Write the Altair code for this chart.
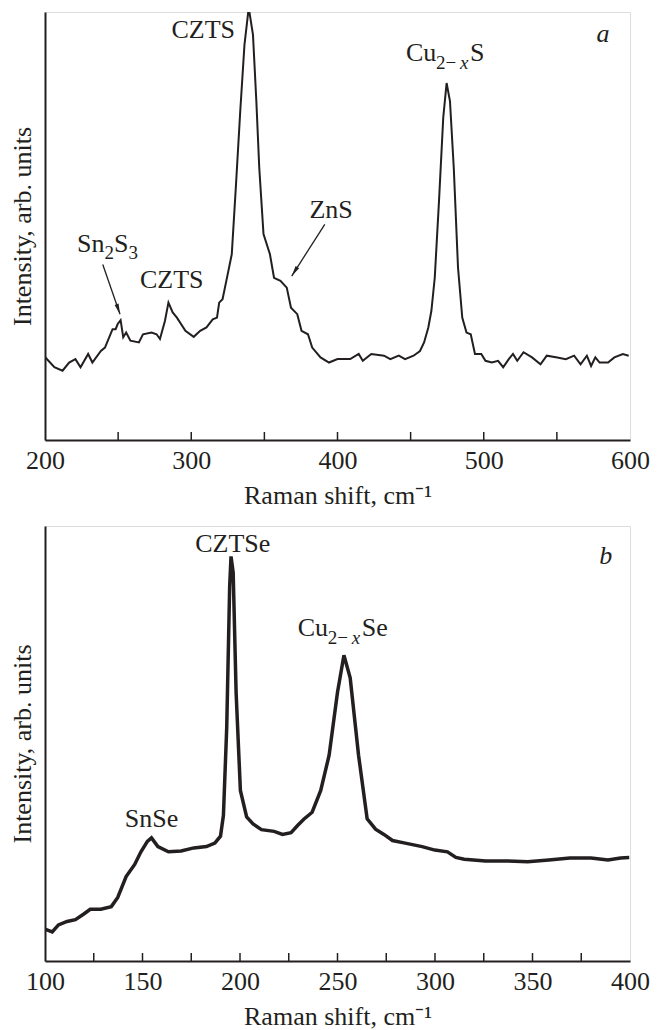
import altair as alt
import pandas as pd

FONT = "Liberation Serif"
INK = "#231f20"

# ---------------- Panel a : CZTS ----------------
a_shift = [200, 206.4, 212, 216.5, 220.8, 224.3, 229.5, 232.4, 238.2, 241, 246.2, 248.3, 249.7, 251.7,
           253.5, 255.5, 258.4, 264.2, 267, 272.8, 276.3, 278.6, 282, 284.4, 287.3, 290.2, 296, 301.7,
           306.1, 310.4, 314.7, 317.6, 319.1, 321.4, 324.9, 327.7, 330.6, 333.5, 336.4, 339.3, 342.2,
           344.5, 346.5, 349.4, 353.8, 356.6, 361, 365.3, 368.2, 372.5, 375.4, 379.8, 382.7, 388.4,
           394.2, 400, 408.7, 414.5, 417.3, 423.1, 431.8, 436.1, 441.9, 446.2, 452, 456.4, 459.2,
           462.1, 464.2, 466.5, 469.4, 472.3, 474.6, 476.9, 479.5, 482.4, 485.3, 488.2, 491.1, 494,
           498.3, 501.2, 505.5, 509.8, 513.3, 517.1, 520, 522.9, 527.2, 533, 538.8, 543.1, 550.3,
           556.1, 561.8, 566.2, 570.5, 573.4, 576.3, 579.2, 585, 589.3, 595.1, 599.1]
a_int = [19.4, 17.0, 16.2, 18.1, 18.9, 17.0, 20.1, 18.1, 20.8, 21.6, 25.9, 25.9, 27.1, 28.0,
         24.0, 25.1, 23.2, 22.8, 24.7, 25.1, 24.7, 23.6, 27.8, 32.1, 29.8, 28.6, 25.5, 24.1,
         25.5, 26.3, 28.2, 28.6, 32.1, 32.9, 38.7, 43.4, 59.7, 76.8, 92.4, 101.0, 94.7,
         79.2, 63.6, 48.1, 43.4, 37.9, 37.2, 35.6, 30.9, 29.4, 25.5, 24.7, 21.6, 19.3,
         18.1, 18.9, 18.9, 20.1, 18.5, 20.1, 19.7, 18.9, 19.7, 18.9, 19.7, 20.8, 22.8,
         26.3, 30.2, 37.9, 55.8, 75.3, 83.4, 79.2, 63.6, 40.3, 28.6, 25.1, 24.7, 20.1,
         20.1, 18.5, 18.1, 18.5, 17.0, 18.9, 20.1, 18.5, 20.5, 19.3, 17.7, 19.7, 19.3,
         18.9, 19.7, 17.7, 19.7, 17.3, 19.3, 18.1, 18.1, 19.3, 20.1, 19.7]
a_label_values = [200, 300, 400, 500, 600]
a_tick_values = [250, 300, 350, 400, 450, 500, 550]

# ---------------- Panel b : CZTSe ----------------
b_shift = [100, 103.7, 106.9, 111.3, 115.6, 119.9, 123.2, 128.6, 134, 137.3, 141.6, 146, 149.2,
           152.5, 154.6, 157.9, 163.3, 169.8, 176.3, 182.8, 187.1, 190, 191.5, 193.2, 194.7, 195.4,
           196.5, 198, 200.2, 203.4, 206.7, 211, 217.5, 221.8, 226.2, 229.4, 232.7, 237, 241.4,
           245.7, 250, 253.3, 256.5, 260.8, 265.2, 269.5, 273.8, 278.2, 284.7, 293.4, 299.9, 306.4,
           310.7, 315, 325.9, 336.7, 347.5, 358.4, 369.2, 380, 388.7, 395.2, 399.6]
b_int = [7.3, 6.7, 8.3, 9.1, 9.5, 10.8, 11.9, 11.9, 12.5, 14.6, 19.4, 22.2, 25.1,
         27.5, 28.3, 26.3, 25.1, 25.3, 26.0, 26.3, 27.1, 28.7, 33.5, 53.8, 86.1, 93.0,
         89.3, 61.8, 39.2, 33.1, 31.5, 30.2, 29.8, 29.1, 29.5, 31.1, 32.6, 34.2, 39.2,
         47.3, 61.8, 70.3, 65.1, 47.3, 32.7, 30.3, 29.1, 27.7, 27.1, 26.3, 25.5, 25.1,
         23.8, 23.4, 23.0, 23.0, 22.8, 23.2, 23.7, 23.7, 23.2, 23.7, 23.8]
b_label_values = [100, 150, 200, 250, 300, 350, 400]
b_tick_values = [125, 150, 175, 200, 225, 250, 275, 300, 325, 350, 375]

X_TITLE = "Raman shift, cm⁻¹"
Y_TITLE = "Intensity, arb. units"
W = 585
HA = 428
HB = 435
ARROW_HEAD = "M0,0L0.4,2L-0.4,2Z"
SUB = 19


def encodings(xmin, xmax, label_values):
    x = alt.X("x:Q", scale=alt.Scale(domain=[xmin, xmax], nice=False, zero=False),
              axis=alt.Axis(values=label_values, title=X_TITLE, grid=False, ticks=False,
                            labelFlush=False, labelFont=FONT, labelFontSize=26, labelColor=INK,
                            labelPadding=7, domainColor=INK, domainWidth=2,
                            titleFont=FONT, titleFontSize=26, titleFontWeight="normal",
                            titleColor=INK, titlePadding=9))
    y = alt.Y("y:Q", scale=alt.Scale(domain=[0, 100], nice=False),
              axis=alt.Axis(labels=False, ticks=False, grid=False, title=Y_TITLE,
                            domainColor=INK, domainWidth=2, titleFont=FONT, titleFontSize=26,
                            titleFontWeight="normal", titleColor=INK, titlePadding=10))
    return x, y


def text_piece(X, Y, x, y, text, size=26, dx=0, dy=0, align="center", baseline="middle", italic=False):
    df = pd.DataFrame({"x": [x], "y": [y], "t": [text]})
    return alt.Chart(df).mark_text(font=FONT, fontSize=size, dx=dx, dy=dy, align=align,
                                   baseline=baseline, color=INK,
                                   fontStyle="italic" if italic else "normal").encode(
        x=X, y=Y, text="t:N")


def ticks_layer(X, values, height):
    df = pd.DataFrame({"x": values})
    return alt.Chart(df).mark_rule(color=INK, strokeWidth=1.5).encode(
        x=X, y=alt.value(height), y2=alt.value(height - 8))


def arrow(X, Y, x0, y0, x1, y1, angle):
    df = pd.DataFrame({"x": [x0], "y": [y0], "x2": [x1], "y2": [y1]})
    shaft = alt.Chart(df).mark_rule(color=INK, strokeWidth=1.3).encode(
        x=X, y=Y, x2="x2:Q", y2="y2:Q")
    hdf = pd.DataFrame({"x": [x1], "y": [y1]})
    head = alt.Chart(hdf).mark_point(shape=ARROW_HEAD, filled=True, color=INK, opacity=1,
                                     size=110, angle=angle, strokeWidth=0).encode(x=X, y=Y)
    return shaft + head


def chem(X, Y, x, y, head, tail, sub_dy):
    # e.g. Cu + (2−x subscript) + S
    return [
        text_piece(X, Y, x, y, head, align="left", baseline="alphabetic"),
        text_piece(X, Y, x, y, "2−", size=SUB, dx=30, dy=sub_dy, align="left", baseline="alphabetic"),
        text_piece(X, Y, x, y, "x", size=SUB, dx=54, dy=sub_dy, align="left", baseline="alphabetic", italic=True),
        text_piece(X, Y, x, y, tail, dx=64, align="left", baseline="alphabetic"),
    ]


# ---- panel a ----
Xa, Ya = encodings(200, 600, a_label_values)
line_a = alt.Chart(pd.DataFrame({"x": a_shift, "y": a_int})).mark_line(
    color=INK, strokeWidth=2, clip=True).encode(x=Xa, y=Ya)

panel_a = alt.layer(
    line_a,
    ticks_layer(Xa, a_tick_values, HA),
    text_piece(Xa, Ya, 308.2, 95.9, "CZTS"),
    text_piece(Xa, Ya, 581.5, 94.9, "a", italic=True),
    *chem(Xa, Ya, 446.8, 88.6, "Cu", "S", 8),
    # ZnS
    text_piece(Xa, Ya, 395.6, 53.8, "ZnS"),
    arrow(Xa, Ya, 391.3, 50.4, 368.7, 38.3, 212.6),
    # Sn2S3
    text_piece(Xa, Ya, 221.9, 44.0, "Sn", align="left", baseline="alphabetic"),
    text_piece(Xa, Ya, 221.9, 44.0, "2", size=SUB, dx=27.5, dy=7, align="left", baseline="alphabetic"),
    text_piece(Xa, Ya, 221.9, 44.0, "S", dx=37, align="left", baseline="alphabetic"),
    text_piece(Xa, Ya, 221.9, 44.0, "3", size=SUB, dx=51.5, dy=7, align="left", baseline="alphabetic"),
    arrow(Xa, Ya, 239.5, 41.0, 251.3, 29.4, 160.8),
    # small CZTS
    text_piece(Xa, Ya, 286.7, 37.5, "CZTS"),
).properties(width=W, height=HA)

# ---- panel b ----
Xb, Yb = encodings(100, 400, b_label_values)
line_b = alt.Chart(pd.DataFrame({"x": b_shift, "y": b_int})).mark_line(
    color=INK, strokeWidth=3.5, clip=True).encode(x=Xb, y=Yb)

panel_b = alt.layer(
    line_b,
    ticks_layer(Xb, b_tick_values, HB),
    text_piece(Xb, Yb, 196.3, 95.8, "CZTSe"),
    text_piece(Xb, Yb, 387.6, 93.0, "b", italic=True),
    *chem(Xb, Yb, 229.6, 74.7, "Cu", "Se", 8),
    text_piece(Xb, Yb, 154.6, 32.6, "SnSe"),
).properties(width=W, height=HB)

chart = alt.vconcat(panel_a, panel_b, spacing=16).properties(
    padding={"left": 0, "top": 3, "right": 5, "bottom": 0}
).configure_view(stroke=INK, strokeWidth=2).configure(background="white")

chart.save("out.html", embed_options={"renderer": "svg", "actions": False})
